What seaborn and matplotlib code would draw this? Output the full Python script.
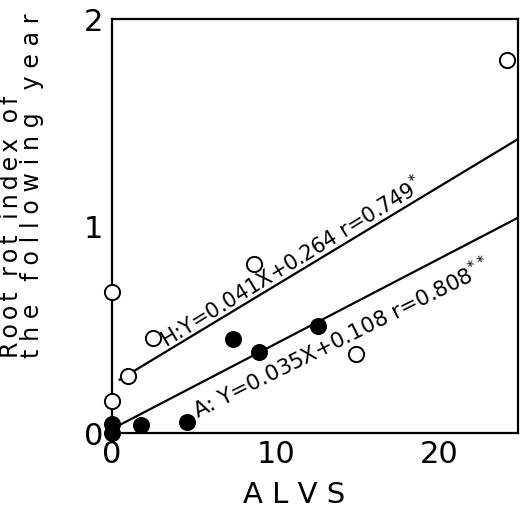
import matplotlib
matplotlib.use("Agg")
import matplotlib.pyplot as plt
import seaborn as sns

# ---- data ----
h_x = [0.0, 0.0, 1.0, 2.5, 8.7, 14.9, 24.1]          # H (open circles)
h_y = [0.68, 0.155, 0.277, 0.46, 0.815, 0.383, 1.80]
a_x = [0.0, 0.0, 1.8, 4.6, 7.4, 9.0, 12.6]           # A (filled circles)
a_y = [0.0, 0.045, 0.04, 0.053, 0.455, 0.39, 0.515]

h_fit_x = [0.45, 24.8]                               # drawn regression lines
h_fit_y = [0.257, 1.42]
a_fit_x = [0.5, 24.8]
a_fit_y = [0.04, 1.04]

x_ticks = [0, 10, 20]
y_ticks = [0, 1, 2]
x_label = "A L V S"
y_label_1 = "\u2006".join("Root rot index of")
y_label_2 = "\u2004".join("the following year")
h_text = r"H:Y=0.041X+0.264 r=0.749$^{*}$"
a_text = r"A: Y=0.035X+0.108 r=0.808$^{**}$"

sns.set_theme(style="white")
plt.rcParams["font.family"] = ["DejaVu Sans"]
plt.rcParams["mathtext.fontset"] = "dejavusans"

fig = plt.figure(figsize=(5.2, 5.11), dpi=100)
ax = fig.add_axes([112 / 520, 78 / 511, 406 / 520, 414 / 511])

sns.lineplot(x=h_fit_x, y=h_fit_y, ax=ax, color="black", linewidth=1.6, zorder=2)
sns.lineplot(x=a_fit_x, y=a_fit_y, ax=ax, color="black", linewidth=1.6, zorder=2)

sns.scatterplot(x=h_x, y=h_y, ax=ax, marker="o", s=120, color="white",
                edgecolor="black", linewidth=1.4, zorder=3, clip_on=False)
sns.scatterplot(x=a_x, y=a_y, ax=ax, marker="o", s=150, color="black",
                edgecolor="black", linewidth=0, zorder=4, clip_on=False)

ax.set_xlim(0, 24.8)
ax.set_ylim(0, 2.0)
ax.set_xticks(x_ticks)
ax.set_yticks(y_ticks)
ax.tick_params(axis="both", direction="in", length=4, width=1.3,
               labelsize=22, colors="black")
ax.tick_params(axis="x", pad=5)
ax.tick_params(axis="y", pad=6.5)

for sp in ax.spines.values():
    sp.set_visible(True)
    sp.set_color("black")
    sp.set_linewidth(1.6)

ax.set_xlabel(x_label, fontsize=21, color="black")
ax.xaxis.set_label_coords((294 - 112) / 406, (433 - 503) / 414)
ax.xaxis.label.set_va("baseline")
ax.xaxis.label.set_ha("center")

ax.set_ylabel(y_label_1 + "\n" + y_label_2, fontsize=17, color="black",
              ha="left", va="bottom", multialignment="left", linespacing=0.85)
ax.yaxis.set_label_coords((44 - 112) / 406, (433 - 358) / 414)

ax.text(3.35, 0.41, h_text, fontsize=15, rotation=31.5, rotation_mode="anchor",
        ha="left", va="baseline", color="black", zorder=5)
ax.text(5.25, 0.065, a_text, fontsize=15.5, rotation=26.5, rotation_mode="anchor",
        ha="left", va="baseline", color="black", zorder=5)

fig.savefig("out.png", dpi=100)
